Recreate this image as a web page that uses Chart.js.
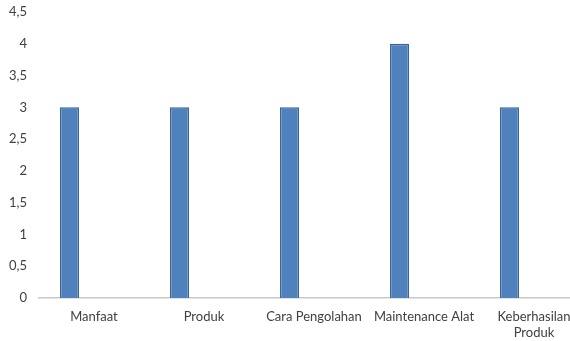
<!DOCTYPE html>
<html>
<head>
<meta charset="utf-8">
<script src="https://cdn.jsdelivr.net/npm/chart.js@4.4.0/dist/chart.umd.min.js"></script>
<style>
  html, body { margin: 0; padding: 0; background: #fff; overflow: hidden; }
  #wrap { position: relative; width: 589px; height: 341px; }
</style>
</head>
<body>
<div id="wrap"><canvas id="c"></canvas></div>
<script>
const categories = ['Manfaat', 'Produk', 'Cara Pengolahan', 'Maintenance Alat', ['Keberhasilan', 'Produk']];
const seriesValues = [3, 3, 3, 4, 3];
const emptySeries = [null, null, null, null, null];
const yTicks = [0, 0.5, 1, 1.5, 2, 2.5, 3, 3.5, 4, 4.5];

const fontFamily = 'Lato, "Open Sans", sans-serif';

new Chart(document.getElementById('c'), {
  type: 'bar',
  data: {
    labels: categories,
    datasets: [
      {
        label: 'Nilai',
        data: seriesValues,
        backgroundColor: '#4F81BD',
        borderColor: '#3A649A',
        borderWidth: 1.5,
        borderSkipped: 'bottom',
        categoryPercentage: 0.891,
        barPercentage: 0.388
      },
      {
        label: '',
        data: emptySeries,
        backgroundColor: 'transparent',
        categoryPercentage: 0.891,
        barPercentage: 0.388
      }
    ]
  },
  options: {
    responsive: true,
    maintainAspectRatio: false,
    animation: false,
    layout: { padding: { top: 0, right: 0, bottom: 0, left: 0 } },
    plugins: {
      legend: { display: false },
      tooltip: { enabled: false }
    },
    scales: {
      x: {
        grid: { display: false, drawTicks: false },
        border: { display: true, color: '#C8C8C8', width: 1.5 },
        ticks: {
          color: '#404040',
          font: { family: fontFamily, size: 13 },
          padding: 11,
          maxRotation: 0,
          autoSkip: false
        },
        afterFit: (s) => { s.height = 43; }
      },
      y: {
        min: 0,
        max: 4.5,
        grid: { display: false, drawTicks: false },
        border: { display: false },
        afterBuildTicks: (s) => { s.ticks = yTicks.map(v => ({ value: v })); },
        ticks: {
          color: '#404040',
          font: { family: fontFamily, size: 13 },
          padding: 12,
          callback: (v) => String(v).replace('.', ',')
        },
        afterFit: (s) => { s.width = 39; s.paddingTop = 12; }
      }
    }
  }
});
</script>
</body>
</html>
